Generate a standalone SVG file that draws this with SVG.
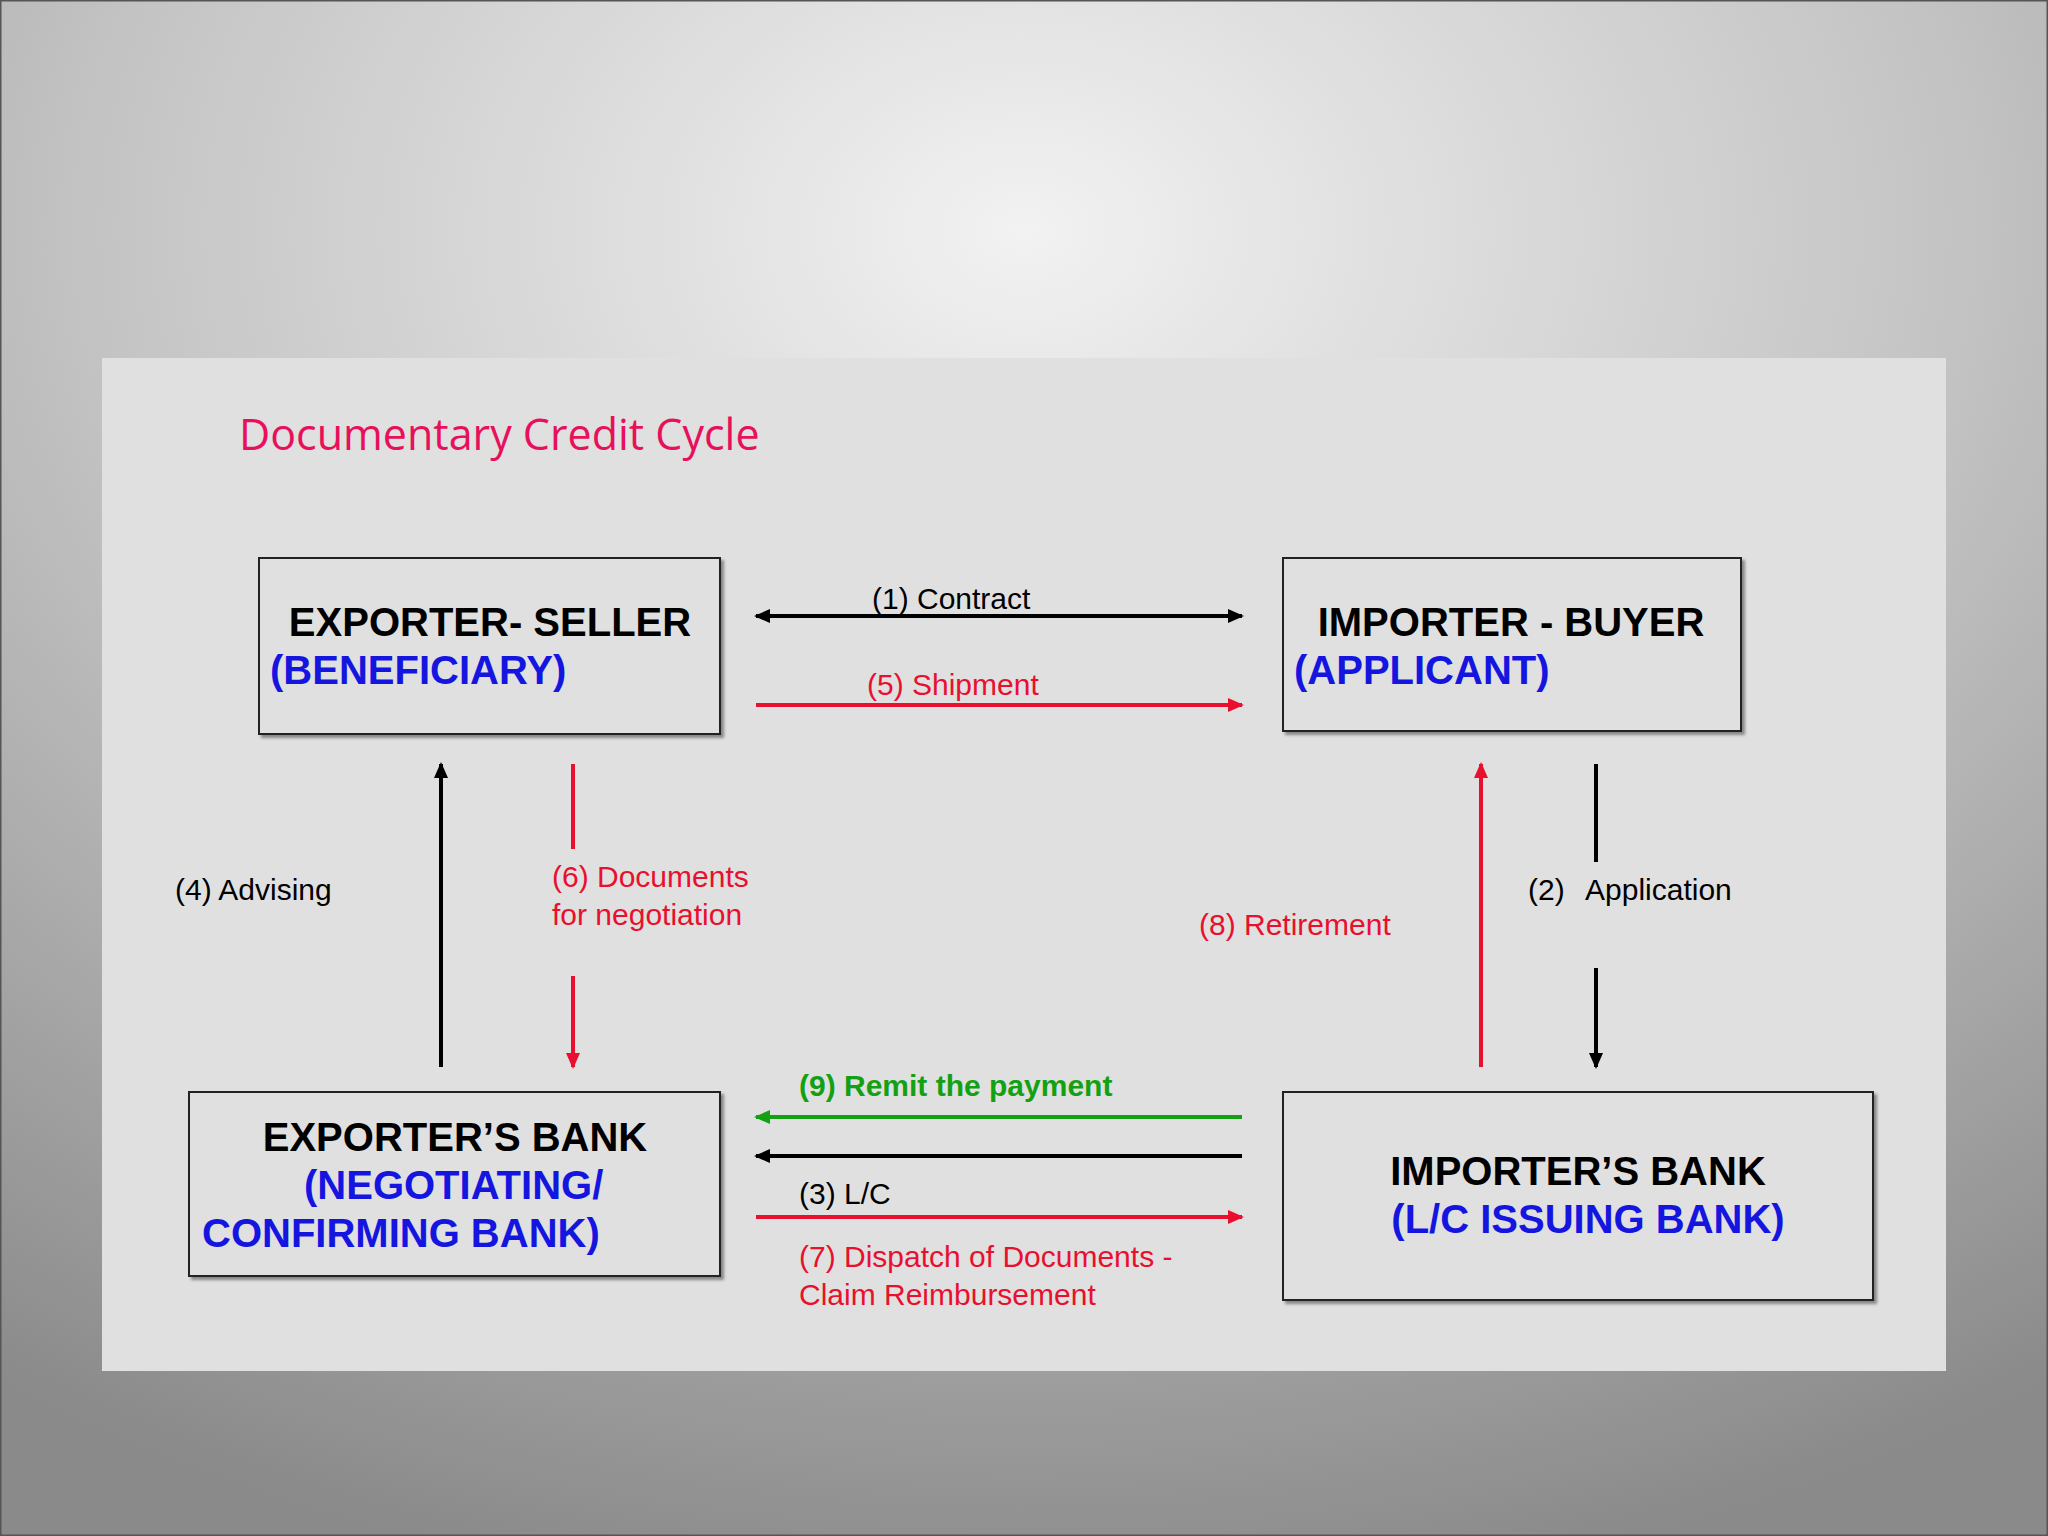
<svg xmlns="http://www.w3.org/2000/svg" width="2048" height="1536" viewBox="0 0 2048 1536">
<defs>
<radialGradient id="bg" cx="0.5" cy="0.15" r="0.9">
<stop offset="0" stop-color="#f2f2f2"/><stop offset="0.5" stop-color="#c4c4c4"/><stop offset="1" stop-color="#8a8a8a"/>
</radialGradient>
<marker id="ak" markerWidth="16" markerHeight="14" refX="14" refY="7" orient="auto-start-reverse" markerUnits="userSpaceOnUse"><path d="M0,0 L16,7 L0,14 z" fill="#000"/></marker>
<marker id="ar" markerWidth="16" markerHeight="14" refX="14" refY="7" orient="auto-start-reverse" markerUnits="userSpaceOnUse"><path d="M0,0 L16,7 L0,14 z" fill="#e8102e"/></marker>
<marker id="ag" markerWidth="16" markerHeight="14" refX="14" refY="7" orient="auto-start-reverse" markerUnits="userSpaceOnUse"><path d="M0,0 L16,7 L0,14 z" fill="#13a013"/></marker>
<filter id="sh"><feDropShadow dx="3" dy="3" stdDeviation="1.5" flood-color="#000" flood-opacity="0.4"/></filter>
</defs>
<style>
.box{fill:#e0e0e0;stroke:#222;stroke-width:2;filter:url(#sh)}
.t{font-family:"Liberation Sans",Arial,sans-serif;font-weight:bold;font-size:40px;fill:#000}
.b{fill:#1515e0}
.l{font-family:"Liberation Sans",Arial,sans-serif;font-size:30px;fill:#000}
.r{fill:#e8102e}
.g{fill:#13a013;font-weight:bold}
.k{stroke:#000;stroke-width:4;fill:none}
.rl{stroke:#e8102e;stroke-width:4;fill:none}
</style>
<rect width="2048" height="1536" fill="url(#bg)"/>
<rect x="0.5" y="0.5" width="2047" height="1535" fill="none" stroke="#555" stroke-width="2"/>
<rect x="102" y="358" width="1844" height="1013" fill="#e0e0e0"/>
<text x="239" y="450" font-family="'Open Sans',Lato,sans-serif" font-size="43" fill="#e8105a">Documentary Credit Cycle</text>
<g id="exporter">
<rect class="box" x="259" y="558" width="461" height="176"/>
<text class="t" x="490" y="636" text-anchor="middle">EXPORTER- SELLER</text>
<text class="t b" x="270" y="684">(BENEFICIARY)</text>
</g>
<g id="importer">
<rect class="box" x="1283" y="558" width="458" height="173"/>
<text class="t" x="1511" y="636" text-anchor="middle">IMPORTER - BUYER</text>
<text class="t b" x="1294" y="684">(APPLICANT)</text>
</g>
<g id="exporterbank">
<rect class="box" x="189" y="1092" width="531" height="184"/>
<text class="t" x="455" y="1151" text-anchor="middle">EXPORTER’S BANK</text>
<text class="t b" x="304" y="1199">(NEGOTIATING/</text>
<text class="t b" x="202" y="1247">CONFIRMING BANK)</text>
</g>
<g id="importerbank">
<rect class="box" x="1283" y="1092" width="590" height="208"/>
<text class="t" x="1578" y="1185" text-anchor="middle">IMPORTER’S BANK</text>
<text class="t b" x="1588" y="1233" text-anchor="middle">(L/C ISSUING BANK)</text>
</g>
<g id="connectors">
<line class="k" x1="756" y1="616" x2="1242" y2="616" marker-start="url(#ak)" marker-end="url(#ak)"/>
<text class="l" x="872" y="609">(1) Contract</text>
<line class="rl" x1="756" y1="705" x2="1242" y2="705" marker-end="url(#ar)"/>
<text class="l r" x="867" y="695">(5) Shipment</text>
<line class="k" x1="441" y1="1067" x2="441" y2="764" marker-end="url(#ak)"/>
<text class="l" x="175" y="900">(4) Advising</text>
<line class="rl" x1="573" y1="764" x2="573" y2="849"/>
<line class="rl" x1="573" y1="976" x2="573" y2="1067" marker-end="url(#ar)"/>
<text class="l r" x="552" y="887">(6) Documents</text>
<text class="l r" x="552" y="925">for negotiation</text>
<line class="rl" x1="1481" y1="1067" x2="1481" y2="764" marker-end="url(#ar)"/>
<text class="l r" x="1199" y="935">(8) Retirement</text>
<line class="k" x1="1596" y1="764" x2="1596" y2="862"/>
<line class="k" x1="1596" y1="968" x2="1596" y2="1067" marker-end="url(#ak)"/>
<text class="l" x="1528" y="900">(2)<tspan x="1585">Application</tspan></text>
<line x1="1242" y1="1117" x2="756" y2="1117" stroke="#13a013" stroke-width="4" marker-end="url(#ag)"/>
<text class="l g" x="799" y="1096">(9) Remit the payment</text>
<line class="k" x1="1242" y1="1156" x2="756" y2="1156" stroke-width="5" marker-end="url(#ak)"/>
<text class="l" x="799" y="1204">(3) L/C</text>
<line class="rl" x1="756" y1="1217" x2="1242" y2="1217" marker-end="url(#ar)"/>
<text class="l r" x="799" y="1267">(7) Dispatch of Documents -</text>
<text class="l r" x="799" y="1305">Claim Reimbursement</text>
</g>
</svg>
